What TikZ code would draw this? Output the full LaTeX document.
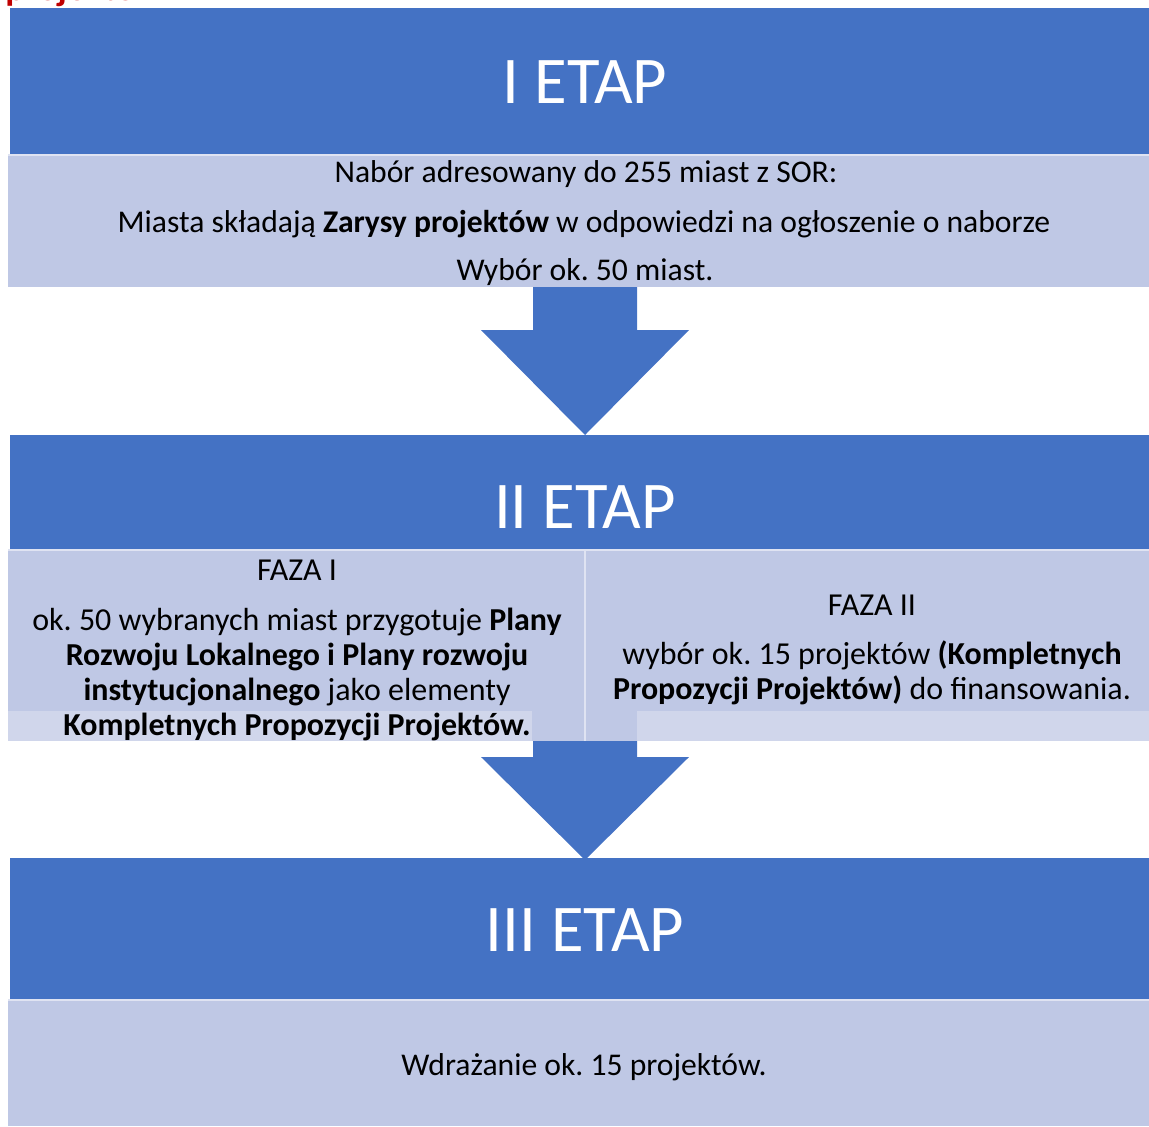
\documentclass[tikz,border=0pt]{standalone}
\usepackage{fontspec}
\setmainfont{Carlito}
\frenchspacing
\definecolor{etapblue}{HTML}{4472C4}
\definecolor{etaplight}{HTML}{BFC8E5}
\definecolor{etapstrip}{HTML}{D0D6EB}
\definecolor{etapred}{HTML}{C00000}
\tikzset{
  etaptitle/.style={text=white, anchor=center, font=\fontsize{38}{40}\selectfont},
  etaptext/.style={anchor=base, inner sep=0pt, font=\fontsize{18}{19.9}\selectfont},
  fazatext/.style={anchor=base, inner sep=0pt, align=center, font=\fontsize{18.2}{19.9}\selectfont},
}
\begin{document}
\begin{tikzpicture}[x=0.02cm, y=-0.02cm]
  \useasboundingbox (0,0) rectangle (1149,1126);
  \clip (0,0) rectangle (1149,1126);
  % tytul ucięty u góry
  \node[anchor=base west, inner sep=0pt, text=etapred, font=\bfseries\fontsize{21}{24}\selectfont] (naglowek) at (5,0) {projektów};
  % I etap
  \fill[etapblue] (10,8) rectangle (1149,155);
  \fill[etaplight] (8,155) rectangle (1149,287);
  \draw[white!50!etaplight, line width=0.6pt] (8,155) -- (1149,155);
  \node[etaptitle] (etap1) at (585,82) {I ETAP};
  \node[etaptext] (nabor) at (586,182) {Nabór adresowany do 255 miast z SOR:};
  \node[etaptext] (zarysy) at (584,232) {Miasta składają \textbf{Zarysy projektów} w odpowiedzi na ogłoszenie o naborze};
  \node[etaptext] (wybor) at (585,280) {Wybór ok. 50 miast.};
  % strzalka 1
  \fill[etapblue] (533,287) -- (637,287) -- (637,330) -- (689,330) -- (585,435)
    -- (481,330) -- (533,330) -- cycle;
  % II etap
  \fill[etapblue] (10,435) rectangle (1149,550);
  \node[etaptitle] (etap2) at (585,507) {II ETAP};
  \fill[etaplight] (8,550) rectangle (584,741);
  \fill[etaplight] (586,550) rectangle (1149,741);
  \fill[etapstrip] (8,711) rectangle (532,741);
  \fill[etapstrip] (637,711) rectangle (1149,741);
  \draw[white!50!etaplight, line width=0.6pt] (8,550) -- (1149,550) (585,550) -- (585,741);
  \node[fazatext] (faza1) at (297,580) {FAZA I};
  \node[fazatext] (faza1txt) at (297,735) {ok. 50 wybranych miast przygotuje \textbf{Plany}\\
    \textbf{Rozwoju Lokalnego i Plany rozwoju}\\
    \textbf{instytucjonalnego} jako elementy\\
    \textbf{Kompletnych Propozycji Projektów.}};
  \node[fazatext] (faza2) at (872,615) {FAZA II};
  \node[fazatext] (faza2txt) at (872,699) {wybór ok. 15 projektów \textbf{(Kompletnych}\\
    \textbf{Propozycji Projektów)} do finansowania.};
  % strzalka 2
  \fill[etapblue] (533,741) -- (637,741) -- (637,757) -- (689,757) -- (585,860)
    -- (481,757) -- (533,757) -- cycle;
  % III etap
  \fill[etapblue] (10,858) rectangle (1149,1000);
  \fill[etaplight] (8,1000) rectangle (1149,1126);
  \draw[white!50!etaplight, line width=0.6pt] (8,1000) -- (1149,1000);
  \node[etaptitle] (etap3) at (585,930) {III ETAP};
  \node[etaptext] (wdrazanie) at (584,1075) {Wdrażanie ok. 15 projektów.};
\end{tikzpicture}
\end{document}
